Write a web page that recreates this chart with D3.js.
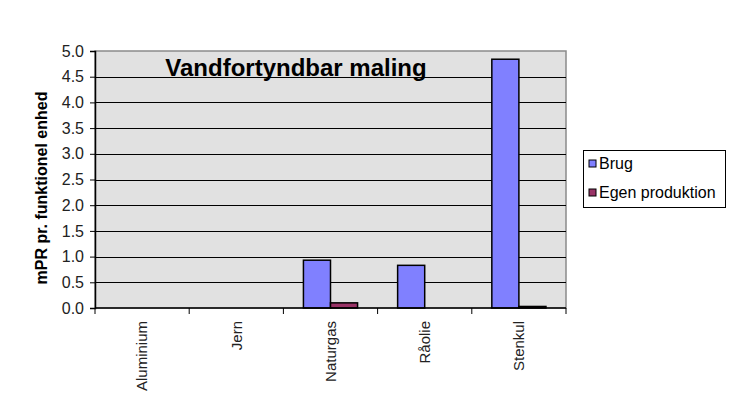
<!DOCTYPE html>
<html>
<head>
<meta charset="utf-8">
<script src="https://cdn.jsdelivr.net/npm/d3@7"></script>
<style>
  body { margin: 0; background: #fff; }
  text { font-family: Arial, "Liberation Sans", sans-serif; }
</style>
</head>
<body>
<svg class="chart" width="749" height="418"></svg>
<script>
const categories = ["Aluminium", "Jern", "Naturgas", "Råolie", "Stenkul"]
const seriesNames = ["Brug", "Egen produktion"]
const brug = [0, 0, 0.93, 0.83, 4.84]
const egenProduktion = [0, 0, 0.10, 0, 0.03]
const yTicks = [0, 0.5, 1, 1.5, 2, 2.5, 3, 3.5, 4, 4.5, 5]
const colors = ["#8080ff", "#993366"]

const plotLeft = 95, plotRight = 566, plotTop = 51, plotBottom = 308

const svg = d3.select('.chart')

const x = d3.scaleBand(categories, [plotLeft, plotRight])
const xInner = d3.scaleBand(seriesNames, [0, x.bandwidth()]).paddingOuter(0.74)
const y = d3.scaleLinear([0, 5], [plotBottom, plotTop])

// plot area
svg.append('rect')
    .attr('x', plotLeft).attr('y', plotTop)
    .attr('width', plotRight - plotLeft).attr('height', plotBottom - plotTop)
    .attr('fill', '#e1e1e1')
    .attr('stroke', '#8a8a8a')
    .attr('stroke-width', 1.5)

// gridlines
svg.append('g')
    .selectAll('line')
    .data(yTicks.slice(1, -1))
    .join('line')
    .attr('x1', plotLeft).attr('x2', plotRight)
    .attr('y1', d => Math.round(y(d)) + 0.5)
    .attr('y2', d => Math.round(y(d)) + 0.5)
    .attr('stroke', '#000')

// title
svg.append('text')
    .text('Vandfortyndbar maling')
    .attr('x', 296).attr('y', 76)
    .attr('text-anchor', 'middle')
    .attr('font-size', '24px')
    .attr('font-weight', 'bold')
    .attr('fill', '#000')

// bars
const rows = categories.map((c, i) => ({c, values: [brug[i], egenProduktion[i]]}))
svg.append('g')
    .selectAll('g')
    .data(rows)
    .join('g')
    .attr('transform', d => `translate(${x(d.c)},0)`)
    .selectAll('rect')
    .data(d => d.values.map((v, j) => ({name: seriesNames[j], v, j})).filter(e => e.v > 0))
    .join('rect')
    .attr('x', d => xInner(d.name))
    .attr('width', xInner.bandwidth())
    .attr('y', d => y(d.v))
    .attr('height', d => y(0) - y(d.v))
    .attr('fill', d => colors[d.j])
    .attr('stroke', '#000')
    .attr('stroke-width', 1.5)

// y axis
const yAxis = d3.axisLeft(y)
    .tickValues(yTicks)
    .tickFormat(d3.format('.1f'))
    .tickSize(5)
    .tickPadding(6)
svg.append('g')
    .attr('transform', `translate(${plotLeft},0)`)
    .call(yAxis)
    .call(g => g.selectAll('text').attr('font-size', '16px').attr('font-family', 'Arial, "Liberation Sans", sans-serif').attr('fill', '#222'))
    .call(g => g.select('.domain').attr('stroke-width', 1.5))

// x axis: ticks at category boundaries
const boundaries = categories.map(c => x(c)).concat([plotRight])
svg.append('g')
    .selectAll('line')
    .data(boundaries)
    .join('line')
    .attr('x1', d => d).attr('x2', d => d)
    .attr('y1', plotBottom).attr('y2', plotBottom + 6)
    .attr('stroke', '#000')
svg.append('line')
    .attr('x1', plotLeft).attr('x2', plotRight)
    .attr('y1', plotBottom).attr('y2', plotBottom)
    .attr('stroke', '#000')
    .attr('stroke-width', 1.5)

svg.append('g')
    .selectAll('text')
    .data(categories)
    .join('text')
    .text(d => d)
    .attr('transform', d => `translate(${x(d) + x.bandwidth() / 2},321) rotate(-90)`)
    .attr('text-anchor', 'end')
    .attr('dy', '0.35em')
    .attr('font-size', '15px')
    .attr('fill', '#222')

// y label
svg.append('text')
    .text('mPR pr. funktionel enhed')
    .attr('transform', 'translate(47,188) rotate(-90)')
    .attr('text-anchor', 'middle')
    .attr('font-size', '16px')
    .attr('font-weight', 'bold')
    .attr('fill', '#000')

// legend
const legend = svg.append('g')
legend.append('rect')
    .attr('x', 583.5).attr('y', 150.5)
    .attr('width', 142).attr('height', 57)
    .attr('fill', '#fff')
    .attr('stroke', '#000')
const items = legend.selectAll('g')
    .data(seriesNames)
    .join('g')
    .attr('transform', (d, i) => `translate(589,${160 + i * 29})`)
items.append('rect')
    .attr('width', 7).attr('height', 7)
    .attr('fill', (d, i) => colors[i])
    .attr('stroke', '#000')
items.append('text')
    .text(d => d)
    .attr('x', 10).attr('y', 9)
    .attr('font-size', '16px')
    .attr('fill', '#000')
</script>
</body>
</html>
